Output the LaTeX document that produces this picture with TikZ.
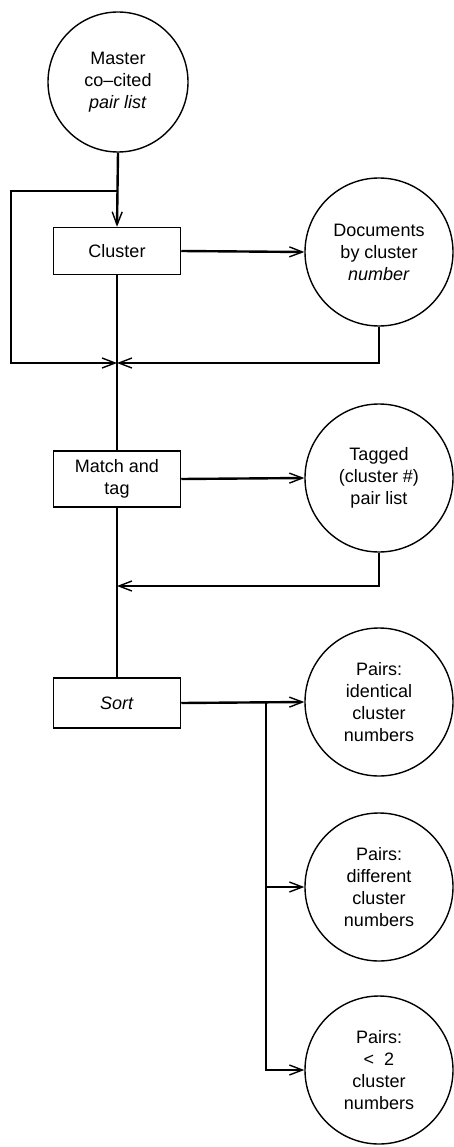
\documentclass[tikz,border=0pt]{standalone}
\usepackage{fontspec}
\setmainfont{Liberation Sans}
\usetikzlibrary{arrows.meta}
\begin{document}
\begin{tikzpicture}[x=1pt,y=-1pt,
  every node/.style={font=\fontsize{18}{22}\selectfont, align=center},
  store/.style={circle, draw, line width=1.4pt, minimum size=148pt, inner sep=0pt},
  proc/.style={rectangle, draw, line width=1.5pt, minimum width=127pt, inner sep=2pt},
  flow/.style={line width=2.4pt},
  arr/.style={flow, -{Straight Barb[length=13pt,width=10pt,line width=1.4pt]}}
]
\useasboundingbox (0,0) rectangle (453,1147);
% stores
\node[store, minimum size=140pt] (master) at (118,82) {Master\\co–cited\\\textit{pair list}};
\node[store] (docs) at (379,252) {Documents\\by cluster\\\textit{number}};
\node[store] (tagged) at (379,478) {Tagged\\(cluster \#)\\pair list};
\node[store] (p1) at (379,702) {Pairs:\\identical\\cluster\\numbers};
\node[store] (p2) at (379,887) {Pairs:\\different\\cluster\\numbers};
\node[store] (p3) at (379,1070) {Pairs:\\<\ \ 2\\cluster\\numbers};
% processes
\node[proc, minimum height=47pt] (cluster) at (117,251) {Cluster};
\node[proc, minimum height=56pt] (match) at (117,479) {Match and\\tag};
\node[proc, minimum height=50pt] (sort) at (117,703) {\textit{Sort}};
% junction points
\coordinate (j1) at (117,191);
\coordinate (lt) at (11,191);
\coordinate (lb) at (11,363);
\coordinate (m1) at (117,363);
\coordinate (m2) at (117,586);
\coordinate (b) at (266,703);
% connectors
\draw[arr] (master.south) -- (cluster.north);
\draw[arr] (j1) -- (lt) -- (lb) -- (m1);
\draw[flow] (cluster.south) -- (match.north);
\draw[arr] (cluster.east) -- (docs.west);
\draw[arr] (docs.south) |- (m1);
\draw[arr] (match.east) -- (tagged.west);
\draw[arr] (tagged.south) |- (m2);
\draw[flow] (match.south) -- (sort.north);
\draw[arr] (sort.east) -- (p1.west);
\draw[arr] (b) |- (p2.west);
\draw[arr] (b) |- (p3.west);
\end{tikzpicture}
\end{document}
